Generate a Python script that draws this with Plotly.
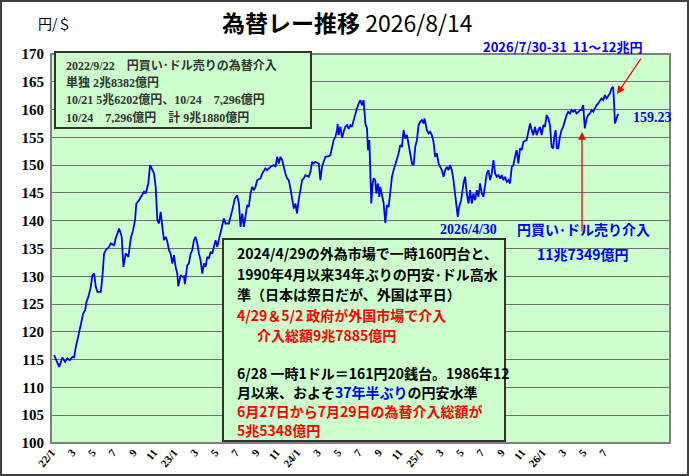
import plotly.graph_objects as go

# months since 2022/1 and USD/JPY close
month_idx = [
    0.26, 0.75, 1.07, 1.33, 1.56, 1.79, 2.05, 2.21, 2.38, 2.54, 2.70, 2.96, 3.09, 3.29, 3.42,
    3.61, 3.84, 4.00, 4.17, 4.33, 4.49, 4.82, 4.98, 5.14, 5.31, 5.63, 5.80, 6.12, 6.28, 6.61,
    6.87, 7.03, 7.26, 7.52, 7.75, 7.98, 8.17, 8.30, 8.56, 8.89, 9.05, 9.21, 9.47, 9.64,
    10.03, 10.19, 10.35, 10.51, 10.68, 10.84, 11.00, 11.17, 11.33, 11.49, 11.65, 11.82, 11.98,
    12.14, 12.30, 12.40, 12.63, 12.80, 12.96, 13.05, 13.18, 13.28, 13.44, 13.61, 13.77, 13.93,
    14.09, 14.26, 14.42, 14.58, 14.75, 14.91, 15.07, 15.24, 15.40, 15.56, 15.72, 15.89, 16.05,
    16.21, 16.37, 16.60, 16.86, 17.02, 17.35, 17.68, 17.94, 18.16, 18.33, 18.49,
    18.65, 18.81, 19.14, 19.30, 19.47, 19.63, 19.79, 19.95, 20.12, 20.44, 20.61, 20.93, 21.09,
    21.42, 21.74, 21.91, 22.07, 22.23, 22.40, 22.56, 22.72, 22.88, 23.05, 23.21, 23.37, 23.53,
    23.70, 23.86, 24.02, 24.18, 24.35, 24.51, 24.67, 24.84, 25.16, 25.33, 25.49, 25.65, 25.81,
    26.14, 26.30, 26.46, 26.79, 27.12, 27.28, 27.44, 27.60, 27.77, 27.93, 27.99, 28.09, 28.26,
    28.42, 28.58, 28.74, 28.91, 29.07, 29.23, 29.39, 29.56, 29.72, 29.88, 30.05, 30.21, 30.37,
    30.53, 30.63, 30.70, 30.86, 30.96, 31.09, 31.19, 31.28, 31.41, 31.51, 31.67, 31.77, 31.93,
    32.06, 32.16, 32.32, 32.49, 32.65, 32.81, 32.98, 33.14, 33.30, 33.46, 33.63, 33.79, 33.95,
    34.11, 34.28, 34.44, 34.60, 34.77, 34.93, 35.09, 35.26, 35.42, 35.58, 35.74, 35.91, 36.07,
    36.23, 36.39, 36.49, 36.72, 36.88, 37.04,
    37.20, 37.37, 37.53, 37.70, 37.86, 38.02, 38.18, 38.35, 38.51, 38.67, 38.83, 38.99, 39.16,
    39.32, 39.42, 39.55, 39.74, 39.87, 40.07, 40.30, 40.46, 40.62, 40.79, 40.95, 41.11, 41.27,
    41.44, 41.60, 41.76, 41.92, 42.09, 42.25, 42.41, 42.58, 42.74, 42.90, 43.06, 43.23, 43.39,
    43.55, 43.71, 43.88, 44.04, 44.20, 44.37, 44.53, 44.69, 44.85, 45.02, 45.18, 45.34, 45.50,
    45.67, 45.83, 45.99, 46.16, 46.48, 46.64, 46.81, 46.97, 47.13, 47.29, 47.46, 47.62, 47.78,
    47.94, 48.11, 48.27, 48.43, 48.60, 48.76, 48.92, 49.08, 49.18, 49.31, 49.44, 49.57, 49.73,
    49.89, 50.05, 50.22, 50.38, 50.54, 50.71, 50.87, 51.03, 51.20, 51.36, 51.53, 51.69, 51.85,
    52.01, 52.11, 52.17, 52.34, 52.50, 52.67, 52.83, 52.99, 53.15, 53.32, 53.48, 53.64, 53.80,
    53.96, 54.13, 54.29, 54.46, 54.62, 54.78, 54.94, 55.04, 55.11, 55.27, 55.43,
]
usd_jpy = [
    115.8, 113.7, 115.4, 114.6, 115.2, 114.9, 115.5, 115.4, 117.3, 118.5, 119.7, 122.1, 123.3, 123.9, 125.4,
    126.3, 128.1, 130.2, 130.5, 128.1, 127.2, 127.2, 129.9, 134.1, 134.7, 135.3, 135.9, 135.6, 136.8, 138.6,
    137.1, 131.7, 134.1, 133.5, 136.8, 138.3, 140.1, 143.1, 143.7, 144.6, 145.2, 144.9, 146.7, 150.0,
    148.5, 146.1, 140.1, 139.5, 141.6, 138.9, 136.5, 137.1, 136.2, 134.7, 134.1, 132.3, 133.8,
    131.7, 130.5, 128.2, 130.2, 129.9, 130.0, 128.6, 130.5, 132.0, 132.3, 134.1, 134.7, 136.5,
    137.1, 135.9, 134.1, 132.9, 130.5, 132.3, 131.7, 133.5, 133.2, 134.4, 134.1, 135.3, 136.5,
    135.3, 136.5, 138.3, 140.4, 139.5, 139.5, 141.9, 144.0, 144.6, 143.1, 138.9,
    141.3, 138.9, 142.8, 142.5, 144.9, 146.1, 145.5, 146.1, 147.3, 147.6, 148.5, 149.4, 149.1,
    149.7, 150.0, 149.7, 151.5, 150.3, 151.5, 150.9, 149.4, 148.5, 147.6, 147.3, 145.8, 144.3,
    142.2, 143.1, 141.3, 143.7, 145.5, 147.3, 147.6, 148.2, 147.9, 148.8, 150.6, 150.3, 150.6,
    150.3, 147.3, 149.7, 151.5, 151.6, 151.8, 153.3, 154.5, 155.1, 156.3, 157.4, 155.4, 156.9,
    154.9, 156.0, 156.9, 157.2, 156.5, 157.2, 156.9, 158.1, 159.3, 160.2, 161.1, 161.7, 160.8,
    161.7, 159.3, 157.5, 156.6, 152.7, 154.5, 149.1, 143.1, 146.7, 147.6, 147.3, 144.9, 146.7,
    144.3, 146.1, 144.9, 143.1, 139.6, 142.8, 142.5, 144.9, 147.9, 149.1, 150.0, 151.2, 152.1,
    153.6, 153.3, 156.3, 154.8, 155.4, 153.6, 152.4, 150.3, 150.0, 153.3, 154.5, 157.2, 157.8,
    158.1, 157.5, 158.4, 156.3, 155.7, 156.0,
    155.4, 154.2, 151.5, 152.1, 150.3, 149.7, 149.1, 147.9, 149.1, 149.7, 149.1, 150.0, 149.1,
    147.3, 145.5, 142.8, 140.7, 142.5, 143.7, 146.7, 147.9, 144.9, 143.1, 145.5, 143.1, 144.9,
    143.7, 145.5, 144.3, 146.7, 144.9, 144.3, 146.7, 148.5, 149.1, 147.3, 148.5, 150.9, 148.5,
    147.9, 148.2, 147.6, 148.2, 147.3, 147.9, 147.0, 147.3, 146.7, 149.7, 150.0, 151.5, 152.7,
    150.3, 153.0, 152.7, 154.2, 154.5, 155.7, 157.5, 156.3, 155.4, 156.9, 155.4, 156.3, 156.9,
    155.4, 157.2, 156.9, 159.0, 158.4, 157.2, 153.3, 153.0, 155.1, 156.3, 153.0, 153.0, 155.1,
    156.3, 156.9, 158.1, 159.0, 159.6, 159.3, 159.9, 159.6, 159.9, 159.3, 159.6, 159.9, 159.9,
    160.8, 158.1, 156.6, 158.4, 159.0, 159.3, 159.9, 159.6, 160.2, 160.8, 161.1, 161.7, 162.0,
    161.7, 162.6, 162.0, 162.6, 162.9, 163.8, 164.1, 160.8, 157.5, 158.4, 159.23,
]

tick_pos = list(range(0, 55, 2))
tick_text = ["22/1", "3", "5", "7", "9", "11", "23/1", "3", "5", "7", "9", "11",
             "24/1", "3", "5", "7", "9", "11", "25/1", "3", "5", "7", "9", "11",
             "26/1", "3", "5", "7"]

box1_lines = [
    "2022/9/22　円買い･ドル売りの為替介入",
    "単独 2兆8382億円",
    "10/21 5兆6202億円、10/24　7,296億円",
    "10/24　7,296億円　計 9兆1880億円",
]

W, H = 689, 476
L, R, T, B = 51, 670, 54, 443

BLUE = "#0000ff"
RED = "#ff0000"
SERIF = "Liberation Serif, Noto Sans CJK JP"
GOTHIC = "Noto Sans CJK JP"


def px(x, y):
    # page pixel -> paper coords
    return (x - L) / (R - L), (B - y) / (B - T)


fig = go.Figure()
fig.add_trace(go.Scatter(x=month_idx, y=usd_jpy, mode="lines",
                         line=dict(color=BLUE, width=1.8), hoverinfo="skip"))

shapes = []
x0, y0 = px(1, 1)
x1, y1 = px(W - 1, H - 1)
shapes.append(dict(type="rect", xref="paper", yref="paper", x0=x0, y0=y0, x1=x1, y1=y1,
                   line=dict(color="#404040", width=2)))
shapes.append(dict(type="rect", xref="paper", yref="paper", x0=0, y0=0, x1=1, y1=1,
                   line=dict(color="#808080", width=2)))
for (a, b, c, d) in [(55, 52, 311, 128), (223, 239, 505, 441)]:
    x0, y0 = px(a, b)
    x1, y1 = px(c, d)
    shapes.append(dict(type="rect", xref="paper", yref="paper", x0=x0, y0=y0, x1=x1, y1=y1,
                       fillcolor="#ccffcc", line=dict(color="#333333", width=2), layer="above"))

ann = []


def text(x, y, s, size, color="black", family=GOTHIC, anchor="left"):
    ax_, ay_ = px(x, y)
    ann.append(dict(xref="paper", yref="paper", x=ax_, y=ay_, text=s, showarrow=False,
                    xanchor=anchor, yanchor="middle",
                    font=dict(size=size, color=color, family=family)))


text(347, 22, "<b>為替レー推移</b> 2026/8/14", 23, anchor="center")
text(36, 23, "円/＄", 14)

for i, s in enumerate(box1_lines):
    text(64, 66 + i * 17, "<b>" + s + "</b>", 12, color="#333333", family=SERIF)

text(235, 253, "<b>2024/4/29の外為市場で一時160円台と、</b>", 14)
text(235, 274, "<b>1990年4月以来34年ぶりの円安･ドル高水</b>", 14)
text(235, 294, "<b>準（日本は祭日だが、外国は平日）</b>", 14)
text(235, 315, "<b>4/29＆5/2 政府が外国市場で介入</b>", 14, color=RED)
text(255, 335, "<b>介入総額9兆7885億円</b>", 14, color=RED)
text(235, 373, "<b>6/28 一時1ドル＝161円20銭台。1986年12</b>", 14)
text(235, 392, "<b>月以来、およそ<span style='color:#0000ff'>37年半ぶり</span>の円安水準</b>", 14)
text(235, 411, "<b>6月27日から7月29日の為替介入総額が</b>", 14, color=RED)
text(235, 430, "<b>5兆5348億円</b>", 14, color=RED)

text(481, 47, "<b>2026/7/30-31  11～12兆円</b>", 13, color=BLUE)
text(631, 117, "<b>159.23</b>", 14, color=BLUE, family=SERIF)
text(438, 229, "<b>2026/4/30</b>", 14, color=BLUE, family=SERIF)
text(515, 229, "<b>円買い･ドル売り介入</b>", 14, color=BLUE)
text(583, 254, "<b>11兆7349億円</b>", 14, color=BLUE, anchor="center")

# red arrows
for (tx, ty, ox, oy) in [(582, 132, 0, 101), (617, 94, 25, -37)]:
    ax_, ay_ = px(tx, ty)
    ann.append(dict(xref="paper", yref="paper", x=ax_, y=ay_, ax=ox, ay=oy, text="",
                    showarrow=True, arrowhead=2, arrowsize=1.2, arrowwidth=1.3,
                    arrowcolor=RED))

fig.update_layout(
    width=W, height=H,
    margin=dict(l=L, r=W - R, t=T, b=H - B, autoexpand=False),
    paper_bgcolor="white", plot_bgcolor="#ccffcc",
    showlegend=False,
    shapes=shapes, annotations=ann,
    xaxis=dict(range=[-0.05, 60.5], tickvals=tick_pos, ticktext=tick_text,
               tickangle=-50, showgrid=False, zeroline=False, showline=False,
               automargin=False,
               tickfont=dict(family=SERIF, size=11, color="black", weight="bold")),
    yaxis=dict(range=[100, 170], dtick=5, showgrid=True, gridcolor="#707070",
               gridwidth=1, zeroline=False, showline=False, ticklabelstandoff=6,
               automargin=False,
               tickfont=dict(family=SERIF, size=15, color="black", weight="bold")),
)

# page body has a default margin; drop it so the figure sits at the window corner
fig.write_html("out.html", config={"displayModeBar": False},
               post_script="document.body.style.margin='0px';")
